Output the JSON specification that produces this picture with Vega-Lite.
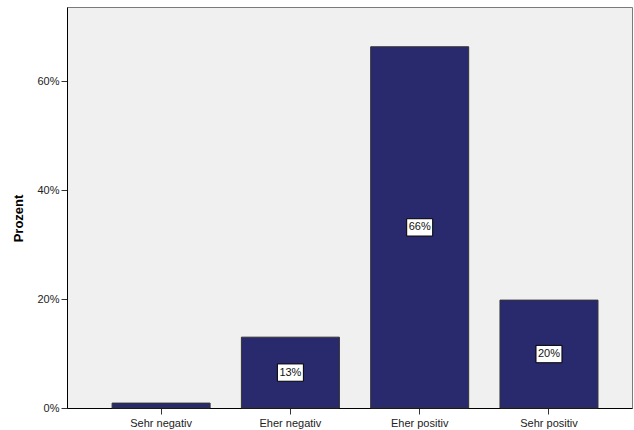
{
  "$schema": "https://vega.github.io/schema/vega-lite/v6.json",
  "autosize": {"type": "none"},
  "width": 565,
  "height": 401,
  "padding": {"left": 67, "top": 7, "right": 2, "bottom": 22},
  "background": "white",
  "config": {
    "view": {"fill": "#F0F0F0", "stroke": "#7a7a7a", "strokeWidth": 1},
    "font": "Liberation Sans",
    "axis": {"labelFont": "Liberation Sans", "titleFont": "Liberation Sans", "labelColor": "#222", "titleColor": "#000"}
  },
  "data": {
    "values": [
      {"kategorie": "Sehr negativ", "pct": 0.9, "label": "1%"},
      {"kategorie": "Eher negativ", "pct": 13.0, "label": "13%"},
      {"kategorie": "Eher positiv", "pct": 66.3, "label": "66%"},
      {"kategorie": "Sehr positiv", "pct": 19.8, "label": "20%"}
    ]
  },
  "encoding": {
    "x": {
      "field": "kategorie",
      "type": "nominal",
      "sort": null,
      "scale": {"paddingInner": 0.242, "paddingOuter": 0.306, "align": 0.57},
      "axis": {"title": null, "labelAngle": 0, "labelFontSize": 11, "tickSize": 6, "tickColor": "#333", "domainColor": "#000", "labelPadding": 3}
    }
  },
  "layer": [
    {
      "mark": {"type": "bar", "color": "#29296E", "stroke": "#333", "strokeWidth": 1},
      "encoding": {
        "y": {
          "field": "pct",
          "type": "quantitative",
          "scale": {"domain": [0, 73.6], "nice": false},
          "axis": {
            "title": "Prozent",
            "titleFontSize": 13,
            "titleFontWeight": "bold",
            "titlePadding": 11,
            "titleY": 211,
            "values": [0, 20, 40, 60],
            "labelExpr": "datum.value + '%'",
            "labelFontSize": 11,
            "tickSize": 6,
            "tickColor": "#333",
            "domainColor": "#000",
            "grid": false,
            "labelPadding": 2
          }
        }
      }
    },
    {
      "transform": [{"filter": "datum.pct > 5"}],
      "encoding": {
        "y": {
          "field": "pct",
          "type": "quantitative",
          "scale": {"domain": [0, 147.2], "nice": false},
          "axis": null
        }
      },
      "layer": [
        {
          "mark": {"type": "point", "shape": "M-1.5,-1H1.5V1H-1.5Z", "size": 300, "filled": true, "fill": "white", "stroke": "#000", "strokeWidth": 1, "opacity": 1}
        },
        {
          "mark": {"type": "text", "fontSize": 11, "color": "#111", "baseline": "middle", "align": "center"},
          "encoding": {"text": {"field": "label"}}
        }
      ]
    }
  ],
  "resolve": {"scale": {"y": "independent"}}
}
